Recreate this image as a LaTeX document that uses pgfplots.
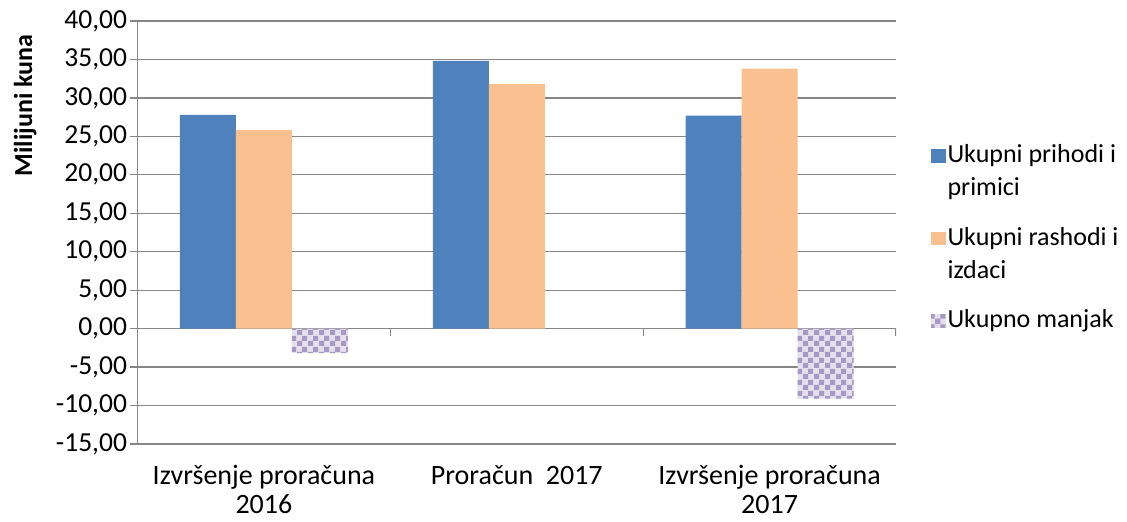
\documentclass[border=0pt]{standalone}
\usepackage{pgfplots}
\pgfplotsset{compat=1.18}
\usepackage{fontspec}
\setmainfont{Carlito}
\usetikzlibrary{patterns}
\definecolor{cblue}{HTML}{4F81BD}
\definecolor{corange}{HTML}{FAC090}
\definecolor{cpurple}{HTML}{A898C4}
\definecolor{cgrid}{RGB}{134,134,134}
\pgfdeclarepatternformonly{checker}{\pgfpointorigin}{\pgfpoint{11bp}{11bp}}{\pgfpoint{11bp}{11bp}}{%
 \pgfpathrectangle{\pgfpointorigin}{\pgfpoint{5.5bp}{5.5bp}}%
 \pgfpathrectangle{\pgfpoint{5.5bp}{5.5bp}}{\pgfpoint{5.5bp}{5.5bp}}%
 \pgfusepath{fill}}
\pgfplotsset{twoline/.style={legend image code/.code={\path[##1,draw=none] (0bp,33bp) rectangle (14.5bp,46.5bp);}}}
\begin{document}
\begin{tikzpicture}
\useasboundingbox (0,0) rectangle (1127bp,522bp);
\begin{axis}[
 at={(137.5bp,78bp)}, anchor=south west,
 scale only axis, width=758.5bp, height=423bp,
 xmin=-0.5, xmax=2.5, ymin=-15, ymax=40,
 ybar=0pt, bar width=56bp,
 axis x line*=bottom, axis y line*=left,
 axis line style={draw=cgrid, line width=1.2bp},
 ytick={-15,-10,...,40},
 yticklabels={{-15,00},{-10,00},{-5,00},{0,00},{5,00},{10,00},{15,00},{20,00},{25,00},{30,00},{35,00},{40,00}},
 ymajorgrids, major grid style={draw=cgrid, line width=1.2bp},
 tick align=outside, major tick length=7bp,
 y tick style={draw=cgrid, line width=1.2bp},
 xtick={0,1,2}, x tick style={draw=none},
 xticklabels={{Izvršenje proračuna\\2016},{Proračun~ 2017},{Izvršenje proračuna\\2017}},
 yticklabel style={font=\fontsize{27.5bp}{30bp}\selectfont, text=black},
 xticklabel style={align=center, font=\fontsize{28bp}{29.5bp}\selectfont, text=black, inner sep=0pt, yshift=-14bp},
 ylabel={\bfseries Milijuni kuna},
 ylabel style={at={(axis description cs:-0.148,0.8)}, anchor=center, font=\fontsize{26bp}{30bp}\selectfont},
 legend style={at={(1.042,0.718)}, anchor=north west, draw=none, fill=none,
   font=\fontsize{26bp}{33bp}\selectfont, cells={anchor=base west, align=left}, row sep=26bp},
 legend image code/.code={\path[#1,draw=none] (0bp,0bp) rectangle (14.5bp,13.5bp);},
]
\addplot[fill=cblue, draw=none, twoline]
  coordinates {(0,27.8) (1,34.8) (2,27.7)};
\addlegendentry{Ukupni prihodi i\\primici}
\addplot[fill=corange, draw=none, twoline]
  coordinates {(0,25.8) (1,31.8) (2,33.8)};
\addlegendentry{Ukupni rashodi i\\izdaci}
\addplot[fill=cpurple!30, draw=none, postaction={pattern=checker, pattern color=cpurple}] coordinates {(0,-3.2) (2,-9.1)};
\addlegendentry{Ukupno manjak}
\draw[cgrid, line width=1.2bp] (axis cs:0.5,0) -- ([yshift=-7bp]axis cs:0.5,0);
\draw[cgrid, line width=1.2bp] (axis cs:1.5,0) -- ([yshift=-7bp]axis cs:1.5,0);
\draw[cgrid, line width=1.2bp] (axis cs:2.5,0) -- ([yshift=-7bp]axis cs:2.5,0);
\end{axis}
\end{tikzpicture}
\end{document}
